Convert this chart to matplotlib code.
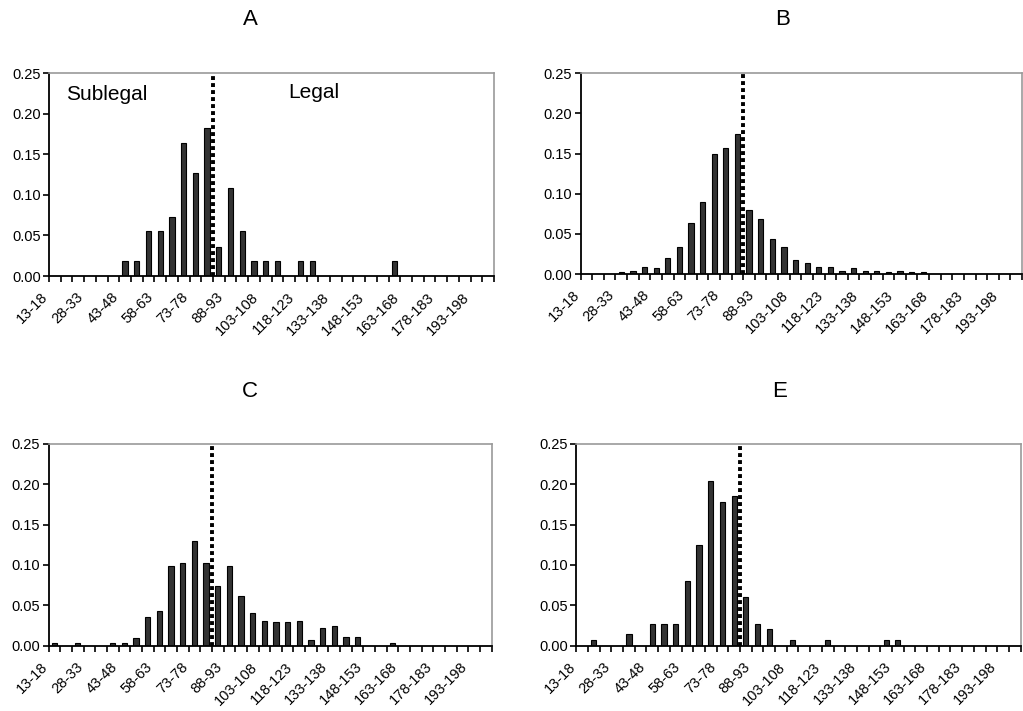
import matplotlib
matplotlib.use("Agg")
import matplotlib.pyplot as plt
from matplotlib.ticker import FixedLocator, FormatStrFormatter
from matplotlib.transforms import ScaledTranslation

plt.rcParams['font.family'] = ['Liberation Sans', 'DejaVu Sans']

# carapace length classes (mm)
size_classes = ['13-18', '18-23', '23-28', '28-33', '33-38', '38-43', '43-48', '48-53',
                '53-58', '58-63', '63-68', '68-73', '73-78', '78-83', '83-88', '88-93',
                '93-98', '98-103', '103-108', '108-113', '113-118', '118-123', '123-128',
                '128-133', '133-138', '138-143', '143-148', '148-153', '153-158', '158-163',
                '163-168', '168-173', '173-178', '178-183', '183-188', '188-193', '193-198',
                '198-203']

# proportion of catch in each class
freq_A = [0, 0, 0, 0, 0, 0, 0.018, 0.018, 0.055, 0.055, 0.073, 0.164, 0.127, 0.182,
          0.036, 0.109, 0.055, 0.018, 0.018, 0.018, 0, 0.018, 0.018, 0, 0, 0, 0, 0, 0,
          0.018, 0, 0, 0, 0, 0, 0, 0, 0]
freq_B = [0, 0, 0, 0.002, 0.004, 0.009, 0.007, 0.020, 0.034, 0.064, 0.090, 0.150, 0.157,
          0.175, 0.080, 0.068, 0.043, 0.034, 0.018, 0.014, 0.009, 0.009, 0.004, 0.007,
          0.004, 0.004, 0.002, 0.004, 0.002, 0.002, 0, 0, 0, 0, 0, 0, 0, 0]
freq_C = [0.003, 0, 0.003, 0, 0, 0.003, 0.003, 0.010, 0.036, 0.043, 0.099, 0.103, 0.130,
          0.103, 0.074, 0.099, 0.061, 0.040, 0.031, 0.029, 0.029, 0.031, 0.007, 0.022,
          0.025, 0.011, 0.011, 0, 0, 0.003, 0, 0, 0, 0, 0, 0, 0, 0]
freq_E = [0, 0.007, 0, 0, 0.014, 0, 0.027, 0.027, 0.027, 0.080, 0.125, 0.204, 0.178,
          0.185, 0.060, 0.027, 0.021, 0, 0.007, 0, 0, 0.007, 0, 0, 0, 0, 0.007, 0.007,
          0, 0, 0, 0, 0, 0, 0, 0, 0, 0]

panels = ['A', 'B', 'C', 'E']
freqs = [freq_A, freq_B, freq_C, freq_E]

# axes rectangles [left, bottom, width, height]
rects = [[0.0479, 0.6118, 0.4350, 0.2851],
         [0.5676, 0.6146, 0.4314, 0.2823],
         [0.0476, 0.0918, 0.4330, 0.2841],
         [0.5633, 0.0918, 0.4344, 0.2841]]
# panel letter positions (figure fraction)
title_xy = [(0.2445, 0.972), (0.7645, 0.972), (0.2440, 0.450), (0.7620, 0.450)]

legal_size = 13.5  # boundary between 83-88 and 88-93

fig = plt.figure(figsize=(10.23, 7.11), dpi=100)
# class labels hang down-left of their class centre
label_offset = ScaledTranslation(-0.14, -0.14, fig.dpi_scale_trans)

for name, freq, rect, txy in zip(panels, freqs, rects, title_xy):
    ax = fig.add_axes(rect)
    x = list(range(len(size_classes)))
    ax.bar(x, freq, width=0.45, color='#333333', edgecolor='black', linewidth=0.8, zorder=2)
    ax.axvline(legal_size, color='black', linewidth=2.8, linestyle=(0, (1, 0.8)), zorder=3)

    ax.set_xlim(-0.5, len(size_classes) - 0.5)
    ax.set_ylim(0, 0.25)
    ax.set_yticks([0, 0.05, 0.10, 0.15, 0.20, 0.25])
    ax.yaxis.set_major_formatter(FormatStrFormatter('%.2f'))

    # tick marks between classes, every third class labelled
    ax.set_xticks([])
    ax.xaxis.set_minor_locator(FixedLocator([i - 0.5 for i in range(len(size_classes) + 1)]))
    ax.tick_params(axis='x', which='minor', length=4, width=1.2, direction='out')
    ax.tick_params(axis='y', length=4, width=1.2, direction='out', labelsize=10.5, pad=2)
    for i in x[::3]:
        ax.text(i, 0, size_classes[i], transform=ax.get_xaxis_transform() + label_offset,
                rotation=45, ha='right', va='top', rotation_mode='anchor', fontsize=10.5,
                clip_on=False)

    for side in ['left', 'bottom']:
        ax.spines[side].set_color('black')
        ax.spines[side].set_linewidth(1.3)
    for side in ['top', 'right']:
        ax.spines[side].set_color('#9a9a9a')
        ax.spines[side].set_linewidth(1.2)

    fig.text(txy[0], txy[1], name, fontsize=16, ha='center', va='center')

    if name == 'A':
        ax.text(0.13, 0.895, 'Sublegal', transform=ax.transAxes, fontsize=15,
                ha='center', va='center')
        ax.text(0.595, 0.905, 'Legal', transform=ax.transAxes, fontsize=15,
                ha='center', va='center')

fig.savefig('out.png', dpi=100, facecolor='white')
